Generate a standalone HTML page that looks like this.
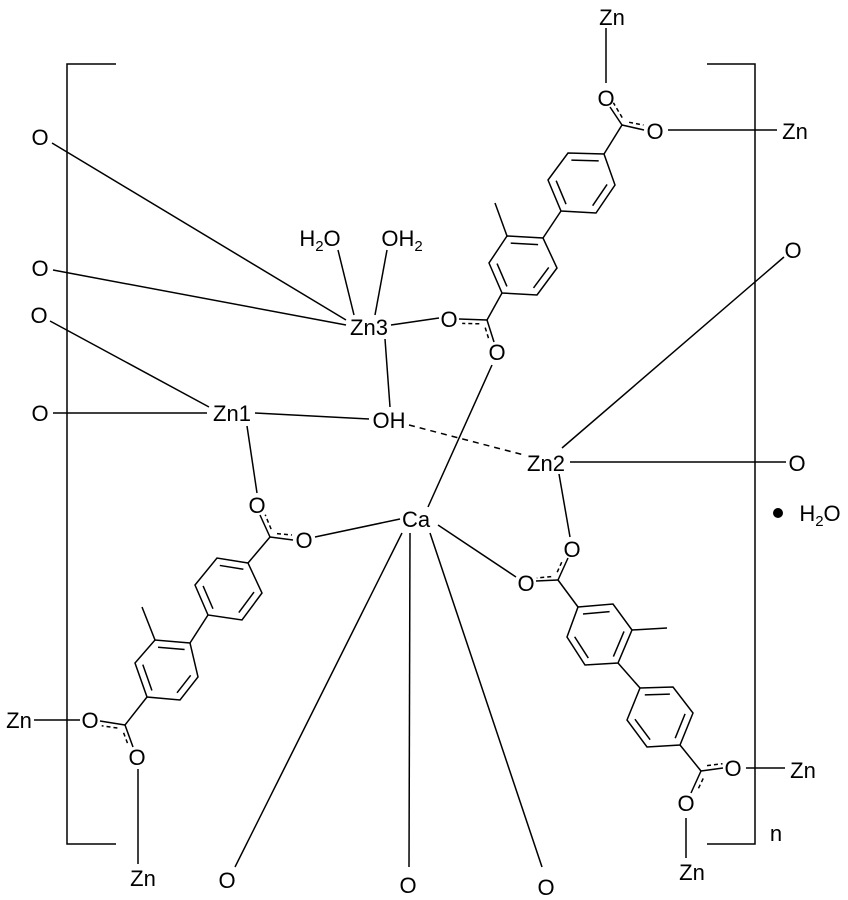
<!DOCTYPE html>
<html>
<head>
<meta charset="utf-8">
<style>
html,body{margin:0;padding:0;background:#fff;}
svg{display:block;}
text{font-family:"Liberation Sans",Arial,sans-serif;font-size:22px;fill:#000;}
</style>
</head>
<body>
<svg width="848" height="900" viewBox="0 0 848 900" xmlns="http://www.w3.org/2000/svg">
<g stroke="#000" stroke-width="1.5" fill="none" stroke-linecap="butt">
<!-- brackets -->
<path d="M116,64 H67 V844 H116"/>
<path d="M707,64 H755 V844 H707"/>

<!-- top Zn / carboxyl 1 -->
<line x1="606" y1="28" x2="606" y2="83"/>
<line x1="610" y1="107" x2="622" y2="125"/>
<line x1="622" y1="125" x2="644" y2="130"/>
<line x1="668" y1="130" x2="777" y2="130"/>
<line x1="622" y1="125" x2="604" y2="154"/>
<g stroke-dasharray="4,3">
<line x1="622.2" y1="117.6" x2="613.4" y2="102.8"/>
<line x1="629.1" y1="122.3" x2="643.5" y2="125"/>
</g>

<!-- Ring A -->
<polygon points="568,153 604,154 615,185 596,213 561,211 548,180"/>
<g transform="translate(582,182.7) scale(0.76) translate(-582,-182.7)">
<line vector-effect="non-scaling-stroke" x1="568" y1="153" x2="604" y2="154"/>
<line vector-effect="non-scaling-stroke" x1="615" y1="185" x2="596" y2="213"/>
<line vector-effect="non-scaling-stroke" x1="561" y1="211" x2="548" y2="180"/>
</g>
<line x1="561" y1="211" x2="543" y2="238"/>

<!-- Ring B -->
<polygon points="507,236 543,238 557,268 537,295 502,293 489,263"/>
<g transform="translate(522.5,265.5) scale(0.76) translate(-522.5,-265.5)">
<line vector-effect="non-scaling-stroke" x1="507" y1="236" x2="543" y2="238"/>
<line vector-effect="non-scaling-stroke" x1="557" y1="268" x2="537" y2="295"/>
<line vector-effect="non-scaling-stroke" x1="502" y1="293" x2="489" y2="263"/>
</g>
<line x1="507" y1="236" x2="495" y2="203"/>
<line x1="502" y1="293" x2="487" y2="320"/>

<!-- carboxyl 2 -->
<line x1="487" y1="320" x2="459" y2="319"/>
<line x1="487" y1="320" x2="494" y2="342"/>
<g stroke-dasharray="4,3">
<line x1="479.3" y1="323.8" x2="462.2" y2="323.4"/>
<line x1="485.2" y1="327.6" x2="489.2" y2="340.4"/>
</g>

<!-- Zn3 bonds -->
<line x1="391" y1="325" x2="439" y2="318"/>
<line x1="338" y1="250" x2="354" y2="315"/>
<line x1="387" y1="250" x2="375" y2="315"/>
<line x1="52" y1="143" x2="346" y2="320"/>
<line x1="53" y1="270" x2="346" y2="325"/>
<line x1="385" y1="339" x2="390" y2="407"/>

<!-- Zn1 bonds -->
<line x1="50" y1="321" x2="209" y2="407"/>
<line x1="53" y1="413" x2="207" y2="413"/>
<line x1="255" y1="413" x2="369" y2="419"/>
<line x1="409" y1="425" x2="524" y2="455" stroke-dasharray="6,5"/>
<line x1="492" y1="365" x2="428" y2="507"/>
<line x1="247" y1="426" x2="257" y2="493"/>

<!-- carboxyl 3 -->
<line x1="260" y1="515" x2="270" y2="537"/>
<line x1="270" y1="537" x2="293" y2="540"/>
<line x1="315" y1="537" x2="400" y2="519"/>
<line x1="270" y1="537" x2="248" y2="563"/>
<g stroke-dasharray="4,3">
<line x1="271.1" y1="529.1" x2="265.2" y2="514.7"/>
<line x1="277" y1="533.6" x2="291.9" y2="535"/>
</g>

<!-- Ring C -->
<polygon points="248,563 217,558 195,585 208,615 242,620 262,593"/>
<g transform="translate(228.7,589) scale(0.76) translate(-228.7,-589)">
<line vector-effect="non-scaling-stroke" x1="248" y1="563" x2="217" y2="558"/>
<line vector-effect="non-scaling-stroke" x1="195" y1="585" x2="208" y2="615"/>
<line vector-effect="non-scaling-stroke" x1="242" y1="620" x2="262" y2="593"/>
</g>
<line x1="208" y1="615" x2="190" y2="643"/>

<!-- Ring D -->
<polygon points="190,643 155,640 135,663 147,697 180,700 198,677"/>
<g transform="translate(167.5,670) scale(0.76) translate(-167.5,-670)">
<line vector-effect="non-scaling-stroke" x1="190" y1="643" x2="155" y2="640"/>
<line vector-effect="non-scaling-stroke" x1="135" y1="663" x2="147" y2="697"/>
<line vector-effect="non-scaling-stroke" x1="180" y1="700" x2="198" y2="677"/>
</g>
<line x1="155" y1="640" x2="142" y2="607"/>
<line x1="147" y1="697" x2="125" y2="725"/>

<!-- carboxyl 4 -->
<line x1="125" y1="725" x2="100" y2="721"/>
<line x1="125" y1="725" x2="133" y2="747"/>
<line x1="34" y1="720" x2="80" y2="720"/>
<line x1="138" y1="769" x2="138" y2="864"/>
<g stroke-dasharray="4,3">
<line x1="117.4" y1="728" x2="101.7" y2="725.8"/>
<line x1="123.6" y1="732.8" x2="128.4" y2="745.6"/>
</g>

<!-- Ca bottom bonds -->
<line x1="402" y1="533" x2="235" y2="867"/>
<line x1="410" y1="533" x2="409" y2="867"/>
<line x1="430" y1="533" x2="542" y2="867"/>
<line x1="438" y1="525" x2="516" y2="577"/>

<!-- carboxyl 5 -->
<line x1="536" y1="581" x2="558" y2="580"/>
<line x1="558" y1="580" x2="568" y2="558"/>
<line x1="559" y1="474" x2="570" y2="537"/>
<line x1="558" y1="580" x2="578" y2="607"/>
<g stroke-dasharray="4,3">
<line x1="551.2" y1="576.6" x2="536.8" y2="578"/>
<line x1="557.2" y1="572.2" x2="562.8" y2="559.8"/>
</g>

<!-- Ring E -->
<polygon points="578,607 613,604 632,630 618,663 585,665 567,637"/>
<g transform="translate(598.8,636) scale(0.76) translate(-598.8,-636)">
<line vector-effect="non-scaling-stroke" x1="578" y1="607" x2="613" y2="604"/>
<line vector-effect="non-scaling-stroke" x1="632" y1="630" x2="618" y2="663"/>
<line vector-effect="non-scaling-stroke" x1="585" y1="665" x2="567" y2="637"/>
</g>
<line x1="632" y1="630" x2="667" y2="628"/>
<line x1="618" y1="663" x2="640" y2="688"/>

<!-- Ring F -->
<polygon points="640,688 673,687 693,713 680,745 647,747 627,720"/>
<g transform="translate(660,716.7) scale(0.76) translate(-660,-716.7)">
<line vector-effect="non-scaling-stroke" x1="640" y1="688" x2="673" y2="687"/>
<line vector-effect="non-scaling-stroke" x1="693" y1="713" x2="680" y2="745"/>
<line vector-effect="non-scaling-stroke" x1="647" y1="747" x2="627" y2="720"/>
</g>
<line x1="680" y1="745" x2="701" y2="771"/>

<!-- carboxyl 6 -->
<line x1="701" y1="771" x2="723" y2="768"/>
<line x1="701" y1="771" x2="691" y2="793"/>
<line x1="746" y1="768" x2="785" y2="768"/>
<line x1="686" y1="818" x2="686" y2="858"/>
<g stroke-dasharray="4,3">
<line x1="707" y1="765.6" x2="722.5" y2="763.7"/>
<line x1="703.2" y1="778.4" x2="697.4" y2="790.6"/>
</g>

<!-- Zn2 bonds -->
<line x1="570" y1="462" x2="786" y2="462"/>
<line x1="562" y1="448" x2="784" y2="257"/>
</g>

<circle cx="778" cy="513" r="5" fill="#000"/>

<g text-anchor="middle">
<text x="612" y="25">Zn</text>
<text x="606" y="106">O</text>
<text x="655" y="139">O</text>
<text x="795" y="139">Zn</text>
<text x="40" y="145">O</text>
<text x="40" y="276">O</text>
<text x="39" y="323">O</text>
<text x="40" y="421">O</text>
<text x="320" y="246">H<tspan font-size="15" dy="5">2</tspan><tspan dy="-5">O</tspan></text>
<text x="402" y="246">OH<tspan font-size="15" dy="5">2</tspan></text>
<text x="369" y="335">Zn3</text>
<text x="449" y="327">O</text>
<text x="497" y="360">O</text>
<text x="389" y="428">OH</text>
<text x="232" y="421">Zn1</text>
<text x="546" y="471">Zn2</text>
<text x="793" y="258">O</text>
<text x="797" y="471">O</text>
<text x="820" y="521">H<tspan font-size="15" dy="5">2</tspan><tspan dy="-5">O</tspan></text>
<text x="257" y="513">O</text>
<text x="304" y="548">O</text>
<text x="416" y="527">Ca</text>
<text x="572" y="557">O</text>
<text x="526" y="591">O</text>
<text x="90" y="728">O</text>
<text x="19" y="728">Zn</text>
<text x="137" y="765">O</text>
<text x="143" y="886">Zn</text>
<text x="227" y="888">O</text>
<text x="408" y="893">O</text>
<text x="546" y="895">O</text>
<text x="733" y="776">O</text>
<text x="803" y="778">Zn</text>
<text x="686" y="811">O</text>
<text x="692" y="880">Zn</text>
<text x="776" y="841">n</text>
</g>
</svg>
</body>
</html>
